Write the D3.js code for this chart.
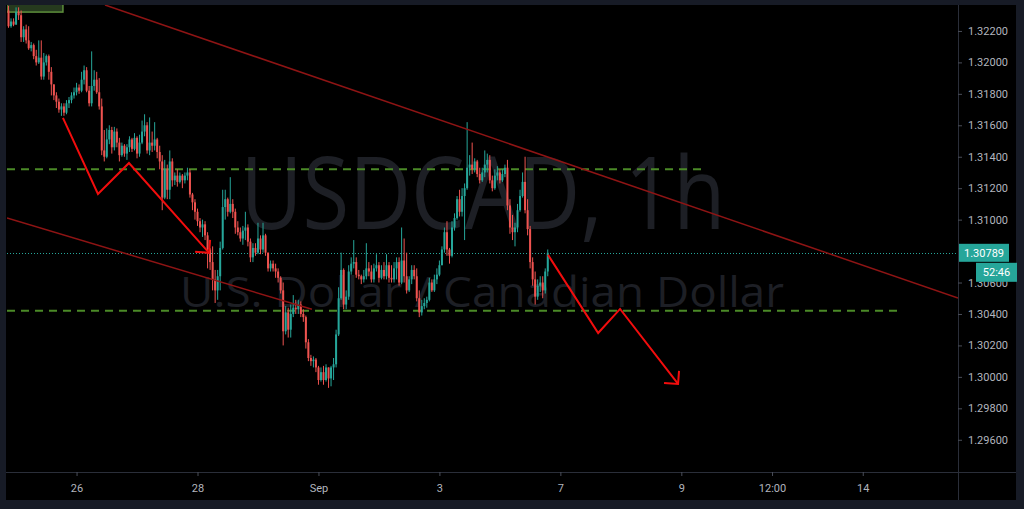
<!DOCTYPE html>
<html><head><meta charset="utf-8">
<script src="https://cdn.jsdelivr.net/npm/d3@7"></script>
<style>html,body{margin:0;padding:0;background:#171b26;}svg{display:block;}</style>
</head><body>
<svg id="chart" width="1024" height="509"></svg>
<script>
// ---------- DATA ----------
const firstOpen = 1.3233;
const closes = [
1.3223,1.3226,1.3224,1.3232,1.3230,1.3216,1.3221,1.3214,1.3209,1.3211,
1.3204,1.3200,1.3203,1.3191,1.3200,1.3204,1.3194,1.3186,1.3179,1.3175,
1.3170,1.3172,1.3168,1.3174,1.3176,1.3179,1.3181,1.3184,1.3182,1.3189,
1.3195,1.3182,1.3174,1.3185,1.3189,1.3181,1.3172,1.3144,1.3140,1.3151,
1.3157,1.3146,1.3156,1.3149,1.3141,1.3147,1.3142,1.3146,1.3151,1.3145,
1.3152,1.3142,1.3149,1.3156,1.3160,1.3144,1.3149,1.3147,1.3151,1.3143,
1.3137,1.3114,1.3132,1.3119,1.3137,1.3125,1.3128,1.3124,1.3128,1.3125,
1.3128,1.3130,1.3116,1.3111,1.3105,1.3099,1.3095,1.3097,1.3090,1.3081,
1.3073,1.3062,1.3055,1.3064,1.3082,1.3108,1.3113,1.3105,1.3110,1.3105,
1.3095,1.3092,1.3088,1.3093,1.3095,1.3086,1.3076,1.3082,1.3079,1.3088,
1.3081,1.3090,1.3079,1.3069,1.3072,1.3069,1.3067,1.3063,1.3055,1.3029,
1.3041,1.3030,1.3040,1.3044,1.3043,1.3046,1.3040,1.3038,1.3022,1.3012,
1.3010,1.3011,1.3006,1.2998,1.3003,1.2998,1.3006,1.2999,1.3006,1.3008,
1.3027,1.3050,1.3068,1.3046,1.3051,1.3067,1.3072,1.3073,1.3065,1.3064,
1.3062,1.3064,1.3069,1.3067,1.3062,1.3069,1.3071,1.3063,1.3068,1.3064,
1.3071,1.3063,1.3062,1.3069,1.3073,1.3060,1.3074,1.3064,1.3055,1.3062,
1.3068,1.3064,1.3050,1.3041,1.3045,1.3047,1.3049,1.3060,1.3055,1.3062,
1.3065,1.3071,1.3081,1.3092,1.3081,1.3077,1.3095,1.3101,1.3113,1.3105,
1.3115,1.3120,1.3133,1.3135,1.3132,1.3137,1.3129,1.3125,1.3130,1.3135,
1.3138,1.3125,1.3120,1.3128,1.3130,1.3125,1.3129,1.3133,1.3109,1.3095,
1.3092,1.3095,1.3106,1.3115,1.3124,1.3106,1.3094,1.3073,1.3062,1.3051,
1.3058,1.3060,1.3055,1.3067,1.30789];
const highs = [
1.3236,1.3228,1.3228,1.3235,1.3235,1.3233,1.3223,1.3224,1.3223,1.3213,
1.3212,1.3208,1.3214,1.3214,1.3206,1.3205,1.3205,1.3197,1.3186,1.3181,
1.3177,1.3174,1.3174,1.3176,1.3178,1.3181,1.3184,1.3187,1.3186,1.3194,
1.3198,1.3197,1.3185,1.3207,1.3195,1.3194,1.3190,1.3177,1.3157,1.3158,
1.3160,1.3159,1.3159,1.3158,1.3152,1.3149,1.3148,1.3148,1.3153,1.3152,
1.3155,1.3153,1.3154,1.3163,1.3167,1.3162,1.3165,1.3156,1.3162,1.3152,
1.3147,1.3141,1.3138,1.3135,1.3144,1.3139,1.3130,1.3132,1.3130,1.3129,
1.3130,1.3133,1.3132,1.3117,1.3113,1.3107,1.3101,1.3100,1.3099,1.3092,
1.3082,1.3083,1.3068,1.3068,1.3086,1.3119,1.3119,1.3114,1.3127,1.3113,
1.3107,1.3099,1.3095,1.3096,1.3105,1.3097,1.3088,1.3085,1.3085,1.3098,
1.3090,1.3098,1.3091,1.3079,1.3074,1.3074,1.3072,1.3069,1.3064,1.3060,
1.3045,1.3044,1.3046,1.3052,1.3049,1.3049,1.3048,1.3043,1.3039,1.3024,
1.3014,1.3013,1.3012,1.3007,1.3006,1.3007,1.3008,1.3006,1.3007,1.3012,
1.3030,1.3057,1.3079,1.3069,1.3055,1.3071,1.3076,1.3087,1.3076,1.3068,
1.3065,1.3068,1.3085,1.3073,1.3071,1.3072,1.3078,1.3073,1.3071,1.3073,
1.3078,1.3073,1.3071,1.3073,1.3076,1.3076,1.3095,1.3088,1.3079,1.3064,
1.3071,1.3071,1.3069,1.3055,1.3049,1.3050,1.3051,1.3063,1.3062,1.3065,
1.3069,1.3074,1.3083,1.3095,1.3099,1.3082,1.3099,1.3104,1.3115,1.3119,
1.3120,1.3123,1.3162,1.3141,1.3149,1.3139,1.3138,1.3133,1.3133,1.3144,
1.3142,1.3141,1.3128,1.3132,1.3134,1.3132,1.3132,1.3135,1.3138,1.3113,
1.3103,1.3098,1.3110,1.3119,1.3130,1.3140,1.3113,1.3096,1.3076,1.3067,
1.3062,1.3064,1.3064,1.3069,1.3081];
const lows = [
1.3222,1.3222,1.3223,1.3224,1.3227,1.3213,1.3213,1.3212,1.3208,1.3207,
1.3202,1.3198,1.3199,1.3189,1.3189,1.3198,1.3189,1.3179,1.3176,1.3171,
1.3168,1.3166,1.3166,1.3167,1.3171,1.3174,1.3177,1.3179,1.3180,1.3181,
1.3186,1.3181,1.3172,1.3172,1.3182,1.3180,1.3170,1.3141,1.3137,1.3139,
1.3148,1.3142,1.3144,1.3146,1.3137,1.3140,1.3140,1.3138,1.3143,1.3143,
1.3144,1.3139,1.3140,1.3148,1.3153,1.3142,1.3141,1.3143,1.3144,1.3139,
1.3132,1.3106,1.3113,1.3113,1.3113,1.3121,1.3122,1.3121,1.3123,1.3120,
1.3123,1.3125,1.3114,1.3106,1.3100,1.3096,1.3092,1.3089,1.3087,1.3069,
1.3068,1.3055,1.3047,1.3049,1.3055,1.3081,1.3100,1.3102,1.3104,1.3101,
1.3091,1.3090,1.3086,1.3084,1.3087,1.3083,1.3073,1.3073,1.3077,1.3078,
1.3078,1.3079,1.3077,1.3067,1.3067,1.3067,1.3063,1.3060,1.3053,1.3020,
1.3027,1.3025,1.3025,1.3038,1.3040,1.3040,1.3038,1.3035,1.3018,1.3010,
1.3007,1.3006,1.3003,1.2995,1.2997,1.2995,1.2997,1.2993,1.2994,1.2998,
1.3006,1.3026,1.3049,1.3043,1.3043,1.3049,1.3065,1.3069,1.3063,1.3062,
1.3059,1.3060,1.3062,1.3064,1.3060,1.3060,1.3067,1.3060,1.3062,1.3062,
1.3062,1.3060,1.3060,1.3060,1.3062,1.3058,1.3059,1.3060,1.3053,1.3054,
1.3059,1.3062,1.3048,1.3038,1.3039,1.3043,1.3044,1.3048,1.3054,1.3054,
1.3059,1.3064,1.3071,1.3079,1.3077,1.3072,1.3076,1.3093,1.3100,1.3102,
1.3102,1.3087,1.3119,1.3128,1.3129,1.3130,1.3127,1.3123,1.3124,1.3127,
1.3130,1.3123,1.3118,1.3119,1.3125,1.3123,1.3124,1.3127,1.3106,1.3091,
1.3087,1.3083,1.3092,1.3105,1.3114,1.3104,1.3090,1.3069,1.3058,1.3046,
1.3049,1.3054,1.3050,1.3053,1.3064];

const priceTicks = [1.322,1.320,1.318,1.316,1.314,1.312,1.310,1.306,1.304,1.302,1.300,1.298,1.296];
const timeLabels = ["26","28","Sep","3","7","9","12:00","14"];
const timeLabelBars = [27,75,123,171,219,267,303,339];
const lastPrice = 1.30789;
const countdown = "52:46";
const levels = [1.3132, 1.3042];
const levelEndBars = [276.8, 353];
const upperTrend = [[38.3,1.32365],[376.8,1.30502]];
const lowerTrend = [[-0.6,1.3101],[120.4,1.3043]];
const zigzag1 = [[21.6,1.31647],[35.5,1.31163],[47.8,1.31360],[79.6,1.30789]];
const zigzag2 = [[214.1,1.30776],[234,1.30279],[242.7,1.30432],[265.7,1.29955]];
const boxTL = [[-0.6,1.3245],[21.6,1.32320]];
const watermark1 = "USDCAD, 1h";
const watermark2 = "U.S. Dollar / Canadian Dollar";

// ---------- LAYOUT ----------
const svg = d3.select("#chart");
const L = 7, R = 958, T = 5, B = 472;
const x = d3.scaleLinear().domain([-0.6, 376.8]).range([L, R]);
const y = d3.scaleLinear().domain([1.29395, 1.32365]).range([B, T]);

svg.append("rect").attr("x",6).attr("y",5).attr("width",1010).attr("height",495).attr("fill","#000");

const defs = svg.append("defs");
defs.append("clipPath").attr("id","plot").append("rect").attr("x",L).attr("y",T).attr("width",R-L).attr("height",B-T);

const plot = svg.append("g").attr("clip-path","url(#plot)");

// watermark
plot.append("text").attr("x",483).attr("y",229).attr("text-anchor","middle")
  .attr("font-family","Open Sans, Noto Sans, sans-serif").attr("font-size",100)
  .attr("textLength",485).attr("lengthAdjust","spacingAndGlyphs")
  .attr("fill","#1d1f25").text(watermark1);
plot.append("text").attr("x",482).attr("y",307).attr("text-anchor","middle")
  .attr("font-family","Open Sans, Noto Sans, sans-serif").attr("font-size",42)
  .attr("textLength",604).attr("lengthAdjust","spacingAndGlyphs")
  .attr("fill","#1d1f25").text(watermark2);

// green box top-left
plot.append("rect").attr("x",x(boxTL[0][0])).attr("y",y(boxTL[0][1]))
  .attr("width",x(boxTL[1][0])-x(boxTL[0][0])).attr("height",y(boxTL[1][1])-y(boxTL[0][1]))
  .attr("fill","#263a1e").attr("stroke","#5d8f3c").attr("stroke-width",1.5);

// dashed levels
levels.forEach((lv,k)=>{
  plot.append("line").attr("x1",L).attr("x2",x(levelEndBars[k])).attr("y1",y(lv)).attr("y2",y(lv))
    .attr("stroke","#4b8a27").attr("stroke-width",2).attr("stroke-dasharray","8,6");
});

// last price dotted line
plot.append("line").attr("x1",L).attr("x2",R).attr("y1",Math.round(y(lastPrice))+0.5).attr("y2",Math.round(y(lastPrice))+0.5)
  .attr("stroke","#26a69a").attr("stroke-width",1).attr("stroke-dasharray","1,2");

// candles
const candles = closes.map((c,i)=>{
  const o = i===0 ? firstOpen : closes[i-1];
  return {i, o, c, h: Math.max(highs[i], o, c), l: Math.min(lows[i], o, c)};
});
const up = "#26a69a", dn = "#ef5350";
const cg = plot.append("g");
cg.selectAll("line.wick").data(candles).join("line")
  .attr("x1",d=>x(d.i)).attr("x2",d=>x(d.i)).attr("y1",d=>y(d.h)).attr("y2",d=>y(d.l))
  .attr("stroke",d=>d.c>=d.o?up:dn).attr("stroke-width",1);
cg.selectAll("rect.body").data(candles).join("rect")
  .attr("x",d=>x(d.i)-1).attr("width",2)
  .attr("y",d=>y(Math.max(d.o,d.c))).attr("height",d=>Math.max(1,Math.abs(y(d.o)-y(d.c))))
  .attr("fill",d=>d.c>=d.o?up:dn);

// trend lines
const ln = d3.line().x(d=>x(d[0])).y(d=>y(d[1]));
[upperTrend, lowerTrend].forEach(t=>{
  plot.append("path").attr("d",ln(t)).attr("fill","none").attr("stroke","#8e1414").attr("stroke-width",1.5);
});

// zigzag projections with arrowheads
[zigzag1, zigzag2].forEach(z=>{
  plot.append("path").attr("d",ln(z)).attr("fill","none").attr("stroke","#f20d0d").attr("stroke-width",2).attr("stroke-linejoin","miter");
  const e = z[z.length-1], ex = x(e[0]), ey = y(e[1]);
  plot.append("path").attr("d",`M${ex-14},${ey-1}L${ex},${ey}L${ex+1},${ey-13}`)
    .attr("fill","none").attr("stroke","#f20d0d").attr("stroke-width",2);
});

// axes lines
svg.append("line").attr("x1",R+0.5).attr("x2",R+0.5).attr("y1",5).attr("y2",500).attr("stroke","#2a2e39");
svg.append("line").attr("x1",6).attr("x2",1016).attr("y1",B+0.5).attr("y2",B+0.5).attr("stroke","#2a2e39");

// price axis
const yAxis = d3.axisRight(y).tickValues(priceTicks).tickFormat(d3.format(".5f")).tickSize(4).tickPadding(6);
const ya = svg.append("g").attr("transform",`translate(${R},0)`).call(yAxis);
ya.select(".domain").remove();
ya.selectAll("line").attr("stroke","#4a4e59");
ya.selectAll("text").attr("fill","#b2b5be").attr("font-size",11).attr("font-family","Roboto, Liberation Sans, sans-serif");

// time axis
const xAxis = d3.axisBottom(x).tickValues(timeLabelBars).tickFormat((d,k)=>timeLabels[k]).tickSize(4).tickPadding(8);
const xa = svg.append("g").attr("transform",`translate(0,${B})`).call(xAxis);
xa.select(".domain").remove();
xa.selectAll("line").attr("stroke","#4a4e59");
xa.selectAll("text").attr("fill","#b2b5be").attr("font-size",11).attr("font-family","Roboto, Liberation Sans, sans-serif");

// last price label + countdown
const ly = y(lastPrice);
svg.append("rect").attr("x",959).attr("y",ly-9).attr("width",50).attr("height",18).attr("fill","#26a69a");
svg.append("text").attr("x",984).attr("y",ly+4).attr("text-anchor","middle").attr("fill","#fff")
  .attr("font-size",11).attr("font-family","Roboto, Liberation Sans, sans-serif").text(d3.format(".5f")(lastPrice));
svg.append("rect").attr("x",976).attr("y",ly+10).attr("width",41).attr("height",19).attr("fill","#26a69a");
svg.append("text").attr("x",996.5).attr("y",ly+23.5).attr("text-anchor","middle").attr("fill","#fff")
  .attr("font-size",11).attr("font-family","Roboto, Liberation Sans, sans-serif").text(countdown);
</script>
</body></html>
